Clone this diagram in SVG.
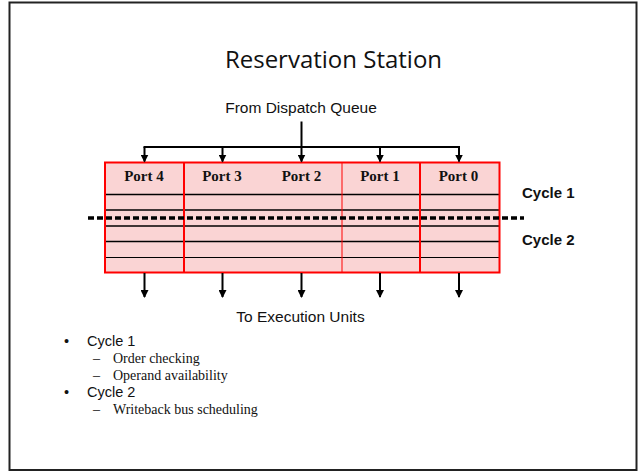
<svg xmlns="http://www.w3.org/2000/svg" width="639" height="471" viewBox="0 0 639 471">
<style>
.title{font-family:"Open Sans","Liberation Sans",sans-serif;font-size:24px;fill:#111}
.lbl{font-family:"Liberation Sans",Arial,sans-serif;font-size:15.5px;fill:#111}
.port{font-family:"Liberation Serif","Times New Roman",serif;font-size:15px;font-weight:bold;fill:#111}
.cyc{font-family:"Liberation Sans",Arial,sans-serif;font-size:15px;font-weight:bold;fill:#111}
.b1{font-family:"Liberation Sans",Arial,sans-serif;font-size:14.5px;fill:#111}
.b2{font-family:"Liberation Serif","Times New Roman",serif;font-size:14px;fill:#111}
.wire{stroke:#000;stroke-width:2;fill:none}
.row{stroke:#000;stroke-width:1.5}
.red{stroke:#f00;fill:none}
</style>
<defs>
<marker id="ah" viewBox="0 0 8 8" refX="7" refY="4" markerWidth="4" markerHeight="4" orient="auto" markerUnits="strokeWidth">
<path d="M0,0 L8,4 L0,8 z" fill="#000"/>
</marker>
</defs>
<rect x="9.5" y="2.5" width="627" height="467.5" fill="#fff" stroke="#222" stroke-width="2"/>
<text class="title" x="333.5" y="68" text-anchor="middle">Reservation Station</text>
<text class="lbl" x="301" y="113" text-anchor="middle">From Dispatch Queue</text>

<g id="table">
<rect x="105" y="162.5" width="394.5" height="110" fill="#fad4d4"/>
<line class="row" x1="105" y1="194.5" x2="499.5" y2="194.5"/>
<line class="row" x1="105" y1="210" x2="499.5" y2="210"/>
<line class="row" x1="105" y1="226" x2="499.5" y2="226"/>
<line class="row" x1="105" y1="241.5" x2="499.5" y2="241.5"/>
<line x1="105" y1="257.5" x2="499.5" y2="257.5" stroke="#000" stroke-width="1"/>
<line class="red" x1="184" y1="162.5" x2="184" y2="272.5" stroke-width="2"/>
<line class="red" x1="342" y1="162.5" x2="342" y2="272.5" stroke-width="1"/>
<line class="red" x1="420" y1="162.5" x2="420" y2="272.5" stroke-width="2"/>
<rect class="red" x="105" y="162.5" width="394.5" height="110" stroke-width="2"/>
</g>
<g id="port4"><text class="port" x="144" y="181" text-anchor="middle">Port 4</text></g>
<g id="port3"><text class="port" x="222" y="181" text-anchor="middle">Port 3</text></g>
<g id="port2"><text class="port" x="301.5" y="181" text-anchor="middle">Port 2</text></g>
<g id="port1"><text class="port" x="380" y="181" text-anchor="middle">Port 1</text></g>
<g id="port0"><text class="port" x="458.5" y="181" text-anchor="middle">Port 0</text></g>

<line x1="88" y1="218" x2="524" y2="218" stroke="#000" stroke-width="3.5" stroke-dasharray="6 3"/>
<text class="cyc" x="522" y="198">Cycle 1</text>
<text class="cyc" x="522" y="245">Cycle 2</text>

<g id="connectors">
<line class="wire" x1="301.5" y1="121.5" x2="301.5" y2="147"/>
<line class="wire" x1="143.5" y1="147" x2="460" y2="147"/>
<line class="wire" x1="144.5" y1="147" x2="144.5" y2="161.5" marker-end="url(#ah)"/>
<line class="wire" x1="222.5" y1="147" x2="222.5" y2="161.5" marker-end="url(#ah)"/>
<line class="wire" x1="301.5" y1="147" x2="301.5" y2="161.5" marker-end="url(#ah)"/>
<line class="wire" x1="380" y1="147" x2="380" y2="161.5" marker-end="url(#ah)"/>
<line class="wire" x1="459" y1="147" x2="459" y2="161.5" marker-end="url(#ah)"/>
<line class="wire" x1="144.5" y1="273" x2="144.5" y2="297" marker-end="url(#ah)"/>
<line class="wire" x1="222.5" y1="273" x2="222.5" y2="297" marker-end="url(#ah)"/>
<line class="wire" x1="301.5" y1="273" x2="301.5" y2="297" marker-end="url(#ah)"/>
<line class="wire" x1="380" y1="273" x2="380" y2="297" marker-end="url(#ah)"/>
<line class="wire" x1="459" y1="273" x2="459" y2="297" marker-end="url(#ah)"/>
</g>
<text class="lbl" x="300.5" y="322" text-anchor="middle">To Execution Units</text>

<text class="b1" x="64" y="346">•</text>
<text class="b1" x="87" y="346">Cycle 1</text>
<text class="b2" x="93" y="363">–</text>
<text class="b2" x="113" y="363">Order checking</text>
<text class="b2" x="93" y="380">–</text>
<text class="b2" x="113" y="380">Operand availability</text>
<text class="b1" x="64" y="397">•</text>
<text class="b1" x="87" y="397">Cycle 2</text>
<text class="b2" x="93" y="414">–</text>
<text class="b2" x="113" y="414">Writeback bus scheduling</text>
</svg>
